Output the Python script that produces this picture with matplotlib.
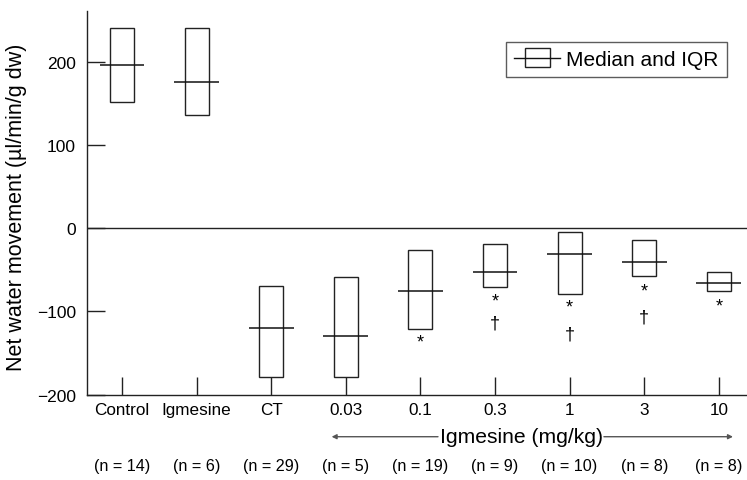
import matplotlib
matplotlib.use("Agg")
import matplotlib.pyplot as plt
from matplotlib.patches import Rectangle
from matplotlib.lines import Line2D
from matplotlib.legend_handler import HandlerBase
import matplotlib.transforms as mtransforms

plt.rcParams['font.family'] = ['Liberation Sans', 'DejaVu Sans']

categories = ["Control", "Igmesine", "CT", "0.03", "0.1", "0.3", "1", "3", "10"]
n_labels = ["(n = 14)", "(n = 6)", "(n = 29)", "(n = 5)", "(n = 19)", "(n = 9)", "(n = 10)", "(n = 8)", "(n = 8)"]
q3 = [241, 241, -70, -58, -26, -19, -4, -14, -53]
q1 = [152, 136, -179, -179, -121, -71, -79, -57, -76]
medians = [196, 176, -120, -129, -76, -53, -31, -41, -66]
asterisk_y = [None, None, None, None, -137, -87, -95, -75, -93]
dagger_y = [None, None, None, None, None, -114, -127, -107, None]

fig = plt.figure(figsize=(7.47, 4.81), dpi=100)
ax = fig.add_axes([87/747, 1-395.7/481, 1-87/747, (395.7-12)/481])

x = list(range(len(categories)))
box_w = 0.32
med_half = 0.30
ax.bar(x, [t - b for t, b in zip(q3, q1)], bottom=q1, width=box_w,
       fill=False, edgecolor='#222222', linewidth=1.0, zorder=3)
for xi, m in zip(x, medians):
    ax.hlines(m, xi - med_half, xi + med_half, color='#111111', linewidth=1.1, zorder=4)

for xi, a in zip(x, asterisk_y):
    if a is not None:
        ax.text(xi, a, "*", ha='center', va='center', fontsize=13)
for xi, d in zip(x, dagger_y):
    if d is not None:
        ax.text(xi, d, "†", ha='center', va='center', fontsize=13)

ax.axhline(0, color='#222222', linewidth=1.0)
ax.set_ylim(-200, 261)
ax.set_xlim(-0.469, 8.378)
for s in ['top', 'right']:
    ax.spines[s].set_visible(False)
for s in ['left', 'bottom']:
    ax.spines[s].set_linewidth(1.0)
    ax.spines[s].set_color('#222222')

ax.set_yticks([-200, -100, 0, 100, 200])
ax.set_yticklabels(["\u2212200", "\u2212100", "0", "100", "200"])
ax.tick_params(axis='y', direction='in', length=13, width=1.0, labelsize=12.5, pad=8, color='#222222')
ax.set_xticks(x)
ax.set_xticklabels(categories)
ax.tick_params(axis='x', direction='in', length=13, width=1.0, labelsize=12.3, pad=5.5, color='#222222')

ax.set_ylabel("Net water movement (\u00b5l/min/g dw)", fontsize=15.5)
ax.yaxis.set_label_coords(-0.091, 0.492)

trans = mtransforms.blended_transform_factory(ax.transData, ax.transAxes)
for xi, n in zip(x, n_labels):
    ax.text(xi, -0.184, n, transform=trans, ha='center', va='center', fontsize=11.6)

ty = -0.1095
ax.text(5.35, ty, "Igmesine (mg/kg)", transform=trans, ha='center', va='center', fontsize=15.2)
arrow_kw = dict(arrowstyle='-|>', color='#555555', lw=1.0, mutation_scale=7, shrinkA=0, shrinkB=0)
ax.annotate("", xy=(2.81, ty), xytext=(4.236, ty), xycoords=trans, textcoords=trans, arrowprops=arrow_kw)
ax.annotate("", xy=(8.19, ty), xytext=(6.46, ty), xycoords=trans, textcoords=trans, arrowprops=arrow_kw)


class BoxMedianHandler(HandlerBase):
    def create_artists(self, legend, orig_handle, xdescent, ydescent, width, height, fontsize, trans):
        bw = width * 0.55
        bh = height * 1.3
        rect = Rectangle((-xdescent + (width - bw) / 2, -ydescent + (height - bh) / 2),
                         bw, bh, fill=False, edgecolor='#222222', linewidth=1.0, transform=trans)
        line = Line2D([-xdescent, -xdescent + width], [-ydescent + height / 2] * 2,
                      color='#111111', linewidth=1.0, transform=trans)
        return [rect, line]


handle = Rectangle((0, 0), 1, 1)
leg = ax.legend([handle], ["Median and IQR"], handler_map={Rectangle: BoxMedianHandler()},
                loc='upper right', bbox_to_anchor=(0.9697, 0.920), borderaxespad=0,
                fontsize=15, handlelength=2.2, frameon=True, fancybox=False,
                edgecolor='#333333', borderpad=0.4, handletextpad=0.3)
leg.get_frame().set_linewidth(1.0)

fig.savefig("out.png", dpi=100)
